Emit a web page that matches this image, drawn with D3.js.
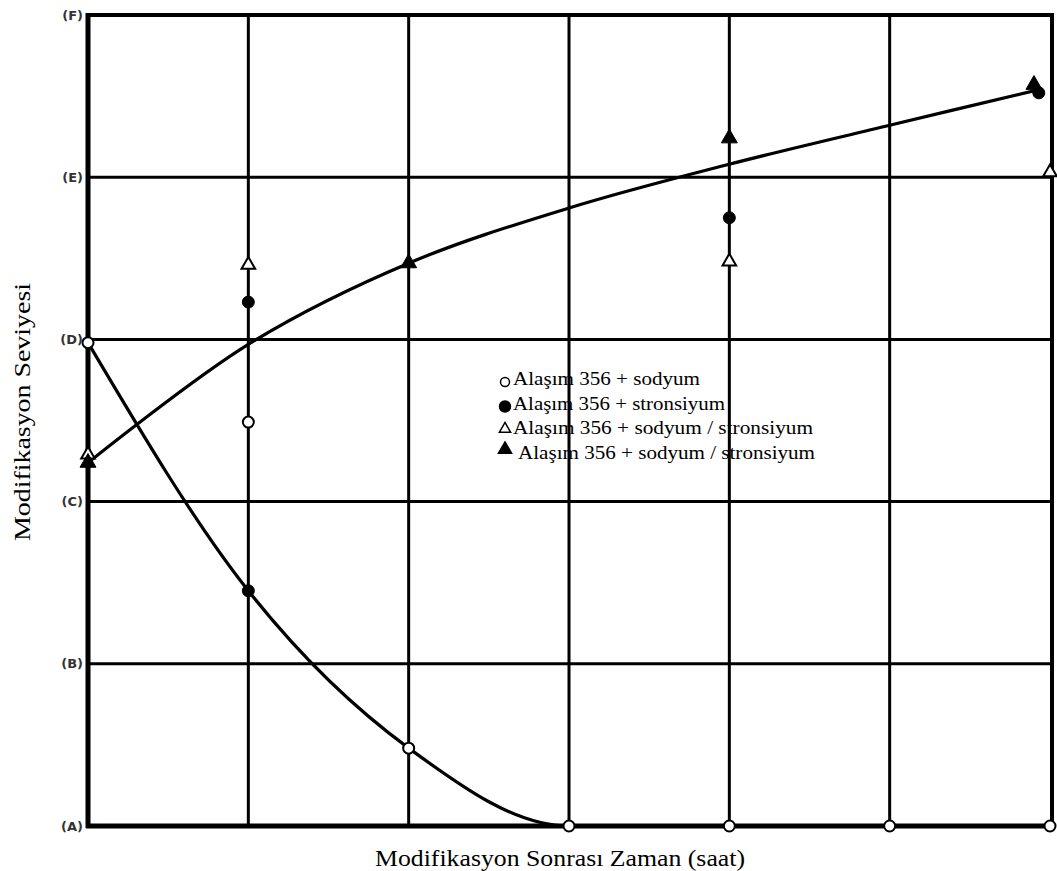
<!DOCTYPE html>
<html>
<head>
<meta charset="utf-8">
<script src="https://cdn.jsdelivr.net/npm/d3@7"></script>
<style>
  body { margin: 0; background: #fff; }
  svg { display: block; }
</style>
</head>
<body>
<div id="chart"></div>
<script>
// level labels, A (lowest) .. F (highest)
const levels = ["(A)", "(B)", "(C)", "(D)", "(E)", "(F)"];
const hours = [0, 1, 2, 3, 4, 5, 6];

// measured points: [hour, level]
const sodyum = [[0, 2.98], [1, 2.49], [2, 0.48], [3, 0], [4, 0], [5, 0], [6, 0]];
const stronsiyum = [[1, 3.23], [1, 1.45], [4, 3.75], [5.93, 4.52]];
const sodyumStronsiyumOpen = [[0, 2.29], [1, 3.46], [4, 3.48], [6, 4.03]];
const sodyumStronsiyumFilled = [[0, 2.24], [2, 3.47], [4, 4.24], [5.9, 4.57]];

// fitted trend curves
const fitRisingX = [0, 1, 2, 3, 4, 5, 5.93];
const fitRisingY = [2.24, 2.97, 3.47, 3.81, 4.08, 4.32, 4.54];
const fitFallingX = [0, 1, 2, 3, 4, 5, 6];
const fitFallingY = [2.98, 1.45, 0.48, 0, 0, 0, 0];

const legendLabels = [
  "Alaşım 356 + sodyum",
  "Alaşım 356 + stronsiyum",
  "Alaşım 356 + sodyum / stronsiyum",
  "Alaşım 356 + sodyum / stronsiyum"
];

const width = 1057, height = 871;
const svg = d3.select("#chart").append("svg")
  .attr("width", width)
  .attr("height", height);

const x = d3.scaleLinear().domain([0, 6]).range([88, 1050]);
const y = d3.scaleLinear().domain([0, 5]).range([826, 15]);

// grid
svg.append("g")
  .selectAll("line")
  .data(hours.slice(1, -1))
  .join("line")
  .attr("x1", d => x(d)).attr("x2", d => x(d))
  .attr("y1", y(5)).attr("y2", y(0))
  .attr("stroke", "#000").attr("stroke-width", 3);

svg.append("g")
  .selectAll("line")
  .data(d3.range(1, 5))
  .join("line")
  .attr("x1", x(0)).attr("x2", x(6))
  .attr("y1", d => y(d)).attr("y2", d => y(d))
  .attr("stroke", "#000").attr("stroke-width", 3);

// frame
svg.append("line").attr("x1", x(0) - 2).attr("x2", x(6) + 2).attr("y1", y(5)).attr("y2", y(5))
  .attr("stroke", "#000").attr("stroke-width", 4);
svg.append("line").attr("x1", x(0) - 2).attr("x2", x(6) + 2).attr("y1", y(0)).attr("y2", y(0))
  .attr("stroke", "#000").attr("stroke-width", 5);
svg.append("line").attr("x1", x(0)).attr("x2", x(0)).attr("y1", y(5) - 2).attr("y2", y(0) + 2)
  .attr("stroke", "#000").attr("stroke-width", 5);
svg.append("line").attr("x1", x(6) + 2).attr("x2", x(6) + 2).attr("y1", y(5) - 2).attr("y2", y(0) + 2)
  .attr("stroke", "#000").attr("stroke-width", 4);

// level labels
svg.append("g")
  .selectAll("text")
  .data(levels)
  .join("text")
  .attr("x", x(0) - 5)
  .attr("y", (d, i) => y(i))
  .attr("dy", "0.35em")
  .attr("text-anchor", "end")
  .style("font-family", "'DejaVu Sans', sans-serif")
  .style("font-size", "13px")
  .style("font-weight", "bold")
  .style("fill", "#333")
  .text(d => d);

// trend curves
const line = d3.line()
  .x(d => x(d[0]))
  .y(d => y(d[1]))
  .curve(d3.curveCatmullRom.alpha(0.5));

svg.append("path")
  .datum(fitRisingX.map((v, i) => [v, fitRisingY[i]]))
  .attr("d", line)
  .attr("fill", "none").attr("stroke", "#000").attr("stroke-width", 3.2);

svg.append("path")
  .datum(fitFallingX.map((v, i) => [v, fitFallingY[i]]))
  .attr("d", line.curve(d3.curveMonotoneX))
  .attr("fill", "none").attr("stroke", "#000").attr("stroke-width", 3.2);

// markers
const tri = d3.symbol().type(d3.symbolTriangle);

function drawCircles(data, filled) {
  svg.append("g")
    .selectAll("circle")
    .data(data)
    .join("circle")
    .attr("cx", d => x(d[0]))
    .attr("cy", d => y(d[1]))
    .attr("r", filled ? 6 : 5.5)
    .attr("fill", filled ? "#000" : "#fff")
    .attr("stroke", "#000")
    .attr("stroke-width", filled ? 1 : 2);
}

function drawTriangles(data, filled) {
  svg.append("g")
    .selectAll("path")
    .data(data)
    .join("path")
    .attr("d", tri.size(filled ? 110 : 80))
    .attr("transform", d => `translate(${x(d[0])},${y(d[1])})`)
    .attr("fill", filled ? "#000" : "#fff")
    .attr("stroke", "#000")
    .attr("stroke-width", filled ? 1 : 2);
}

drawTriangles(sodyumStronsiyumOpen, false);
drawCircles(sodyum, false);
drawCircles(stronsiyum, true);
drawTriangles(sodyumStronsiyumFilled, true);

// legend
const legendX = 505, legendY = 380, legendStep = 24.5;
const legendWidths = [187, 212, 300, 297];
const legend = svg.append("g");
legendLabels.forEach((label, i) => {
  const cy = legendY + i * legendStep;
  if (i === 0 || i === 1) {
    legend.append("circle")
      .attr("cx", legendX).attr("cy", cy + 2)
      .attr("r", i === 0 ? 4.5 : 5.5)
      .attr("fill", i === 0 ? "#fff" : "#000")
      .attr("stroke", "#000").attr("stroke-width", 1.5);
  } else {
    legend.append("path")
      .attr("d", d3.symbol().type(d3.symbolTriangle).size(i === 2 ? 55 : 75)())
      .attr("transform", `translate(${legendX},${i === 3 ? cy - 4 : cy})`)
      .attr("fill", i === 2 ? "#fff" : "#000")
      .attr("stroke", "#000").attr("stroke-width", 1.5);
  }
  legend.append("text")
    .attr("x", i === 3 ? legendX + 13 : legendX + 8)
    .attr("y", cy + 5)
    .attr("textLength", legendWidths[i])
    .attr("lengthAdjust", "spacingAndGlyphs")
    .style("font-family", "'Liberation Serif', serif")
    .style("font-size", "18px")
    .text(label);
});

// axis titles
svg.append("text")
  .attr("x", 560)
  .attr("y", 866)
  .attr("text-anchor", "middle")
  .attr("textLength", 370)
  .attr("lengthAdjust", "spacingAndGlyphs")
  .style("font-family", "'Liberation Serif', serif")
  .style("font-size", "23px")
  .text("Modifikasyon Sonrası Zaman (saat)");

svg.append("text")
  .attr("transform", "translate(30,412) rotate(-90)")
  .attr("text-anchor", "middle")
  .attr("textLength", 258)
  .attr("lengthAdjust", "spacingAndGlyphs")
  .style("font-family", "'Liberation Serif', serif")
  .style("font-size", "24px")
  .text("Modifikasyon Seviyesi");
</script>
</body>
</html>
